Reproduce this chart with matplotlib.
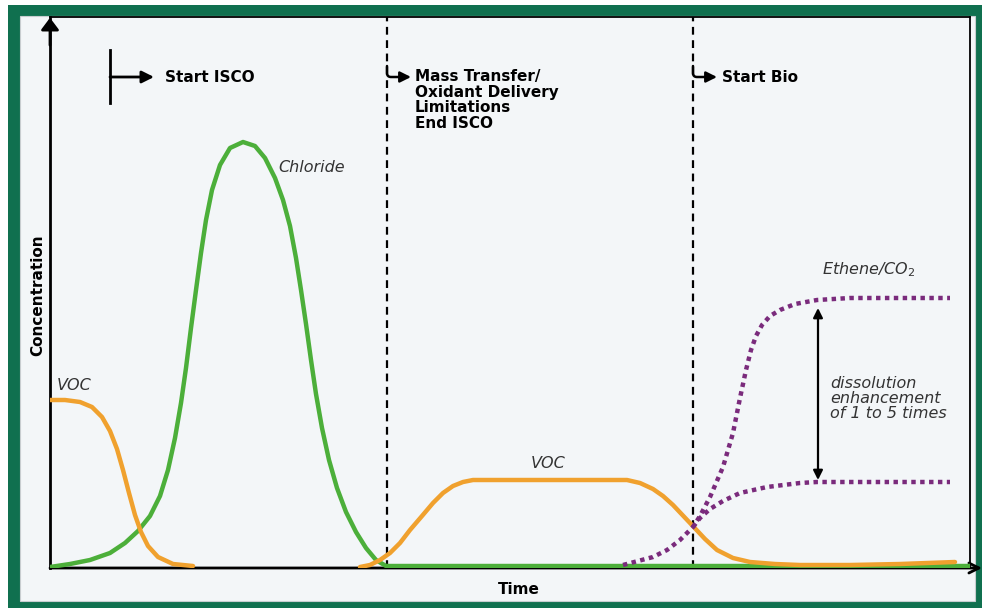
import numpy as np
import matplotlib
matplotlib.use("Agg")
import matplotlib.pyplot as plt
from matplotlib.patches import Rectangle

# values (time, concentration in arbitrary units)
voc_start_t = [0, 15, 30, 42, 52, 60, 67, 73, 79, 85, 91, 98, 108, 123, 143]
voc_start_c = [168, 168, 166, 161, 151, 137, 119, 98, 75, 53, 36, 22, 11, 4, 2]

chloride_t = [0, 20, 40, 60, 75, 88, 100, 110, 118, 125, 131, 136, 141, 146, 151, 156,
              162, 170, 180, 193, 205, 215, 225, 233, 240, 246, 251, 256, 261, 266,
              272, 279, 287, 296, 306, 316, 326, 336, 920]
chloride_c = [1, 4, 8, 15, 25, 37, 52, 72, 98, 130, 165, 200, 240, 278, 315, 348,
              378, 403, 420, 426, 422, 410, 390, 368, 342, 310, 278, 244, 208, 174,
              140, 108, 80, 56, 36, 20, 8, 2, 2]

voc_rebound_t = [310, 320, 330, 340, 350, 360, 372, 383, 393, 403, 413, 423, 577, 590,
                 603, 613, 623, 640, 655, 667, 683, 700, 725, 750, 800, 850, 905]
voc_rebound_c = [1, 3, 8, 15, 25, 38, 52, 65, 75, 82, 86, 88, 88, 85,
                 79, 72, 63, 45, 29, 18, 10, 6, 4, 3, 3, 4, 6]

ethene_base_t = [573, 603, 617, 630, 643]
ethene_base_c = [3, 11, 18, 28, 41]
ethene_high_t = [650, 660, 673, 683, 690, 696, 701, 706, 712, 720, 730, 745, 767, 800, 900]
ethene_high_c = [52, 71, 101, 135, 170, 198, 218, 232, 243, 252, 258, 264, 268, 270, 270]
ethene_low_t = [650, 660, 673, 690, 717, 750, 767, 900]
ethene_low_c = [50, 59, 67, 75, 81, 85, 86, 86]

phase_t = [337, 643]          # end ISCO / start bio
enh_t = 768
enh_range = [88, 260]

GREEN = "#4caf3a"
ORANGE = "#f0a12e"
PURPLE = "#7a2b7c"
BORDER = "#10704f"
PANEL = "#f3f6f8"

W, H = 982, 608
fig = plt.figure(figsize=(W / 100, H / 100), dpi=100)
fig.patch.set_facecolor("white")
fig.add_artist(Rectangle((8 / W, 0), 1 - 8 / W, 1 - 5 / H, transform=fig.transFigure,
                         facecolor=BORDER, edgecolor="none", zorder=-3))
fig.add_artist(Rectangle((20 / W, 1 - 601 / H), 955 / W, 585 / H, transform=fig.transFigure,
                         facecolor=PANEL, edgecolor="#c8cdd0", lw=0.8, zorder=-2))

ax = fig.add_axes([50 / W, 1 - 568 / H, 920 / W, 551 / H])
ax.set_facecolor("none")
ax.set_xlim(0, 920)
ax.set_ylim(0, 551)
ax.set_xticks([])
ax.set_yticks([])
for s in ["top", "right"]:
    ax.spines[s].set_linewidth(1.3)
ax.spines["left"].set_linewidth(2)
ax.spines["bottom"].set_visible(False)

# axis arrows
ax.annotate("", xy=(0, 553), xytext=(0, 520), annotation_clip=False,
            arrowprops=dict(arrowstyle="-|>,head_width=0.3", color="black", lw=2,
                            mutation_scale=18))
ax.annotate("", xy=(932, 0), xytext=(0, 0), annotation_clip=False,
            arrowprops=dict(arrowstyle="->", color="black", lw=2, mutation_scale=18,
                            shrinkA=0, shrinkB=0))

# curves
kw = dict(lw=3.2, solid_capstyle="round", solid_joinstyle="round", zorder=3)
ax.plot(chloride_t, chloride_c, color=GREEN, **kw)
ax.plot(voc_start_t, voc_start_c, color=ORANGE, **kw)
ax.plot(voc_rebound_t, voc_rebound_c, color=ORANGE, **kw)
ax.plot(ethene_base_t + ethene_high_t, ethene_base_c + ethene_high_c, color=PURPLE, lw=3.2,
        linestyle=(0, (1, 1)), dash_capstyle="butt", zorder=4)
ax.plot(ethene_base_t[-1:] + ethene_low_t, ethene_base_c[-1:] + ethene_low_c, color=PURPLE,
        lw=3.2, linestyle=(0, (1, 1)), dash_capstyle="butt", zorder=4)

# phase boundaries
for t in phase_t:
    ax.plot([t, t], [0, 551], color="black", lw=1.6, linestyle=(0, (3.5, 2.5)), zorder=2)

# start ISCO marker
ax.plot([60, 60], [465, 518], color="black", lw=2)
ax.annotate("", xy=(104, 491), xytext=(60, 491),
            arrowprops=dict(arrowstyle="-|>", color="black", lw=2, mutation_scale=18,
                            shrinkA=0, shrinkB=0))
ax.text(115, 491, "Start ISCO", fontsize=11, fontweight="bold", va="center", ha="left")

# hooked arrows at the dashed lines
for t in phase_t:
    ax.annotate("", xy=(t + 24, 491), xytext=(t, 502),
                arrowprops=dict(arrowstyle="-|>", color="black", lw=1.8, mutation_scale=16,
                                shrinkA=0, shrinkB=0,
                                connectionstyle="angle,angleA=-90,angleB=0,rad=4"))
ax.text(365, 499, "Mass Transfer/\nOxidant Delivery\nLimitations\nEnd ISCO", fontsize=11,
        fontweight="bold", va="top", ha="left", linespacing=1.05)
ax.text(672, 491, "Start Bio", fontsize=11, fontweight="bold", va="center", ha="left")

# enhancement arrow
ax.annotate("", xy=(enh_t, enh_range[1]), xytext=(enh_t, enh_range[0]),
            arrowprops=dict(arrowstyle="<|-|>", color="black", lw=1.6, mutation_scale=14,
                            shrinkA=0, shrinkB=0))

lab = dict(fontsize=11.5, style="italic", color="#333333")
ax.text(228, 400, "Chloride", va="center", ha="left", **lab)
ax.text(7, 183, "VOC", va="center", ha="left", **lab)
ax.text(498, 105, "VOC", va="center", ha="center", **lab)
ax.text(772, 298, "Ethene/CO$_2$", va="center", ha="left", **lab)
ax.text(780, 192, "dissolution\nenhancement\nof 1 to 5 times", va="top", ha="left",
        linespacing=1.0, **lab)

fig.text(38 / W, 1 - 295 / H, "Concentration", rotation=90, fontsize=11, fontweight="bold",
         ha="center", va="center")
fig.text(519 / W, 1 - 590 / H, "Time", fontsize=11, fontweight="bold", ha="center", va="center")

fig.savefig("out.png", dpi=100, facecolor=fig.get_facecolor())
